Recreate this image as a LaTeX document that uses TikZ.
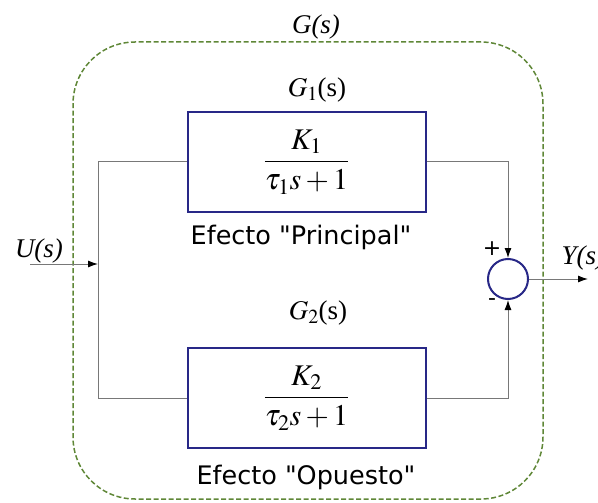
\documentclass[tikz,border=0pt]{standalone}
\usepackage{amsmath}
\usepackage{mathptmx}
\usepackage{fontspec}
\setmainfont{Liberation Serif}
\setsansfont{DejaVu Sans}
\usepackage{tikz}
\usetikzlibrary{arrows.meta}

\definecolor{boxblue}{RGB}{40,40,135}
\definecolor{groupgreen}{RGB}{95,135,55}
\definecolor{wiregray}{RGB}{120,120,120}

\begin{document}
\begin{tikzpicture}[
		x=1pt, y=-1pt,
		block/.style={
			rectangle,
			draw=boxblue,
			line width=2pt,
			align=center,
			minimum width=238pt,
			minimum height=100pt,
			font=\fontsize{30}{34}\selectfont
		},
		group/.style={
			rectangle,
			draw=groupgreen,
			line width=1.5pt,
			dash pattern=on 5pt off 2.5pt,
			rounded corners=62pt,
			minimum width=470pt,
			minimum height=457pt
		},
		summer/.style={
			circle,
			draw=boxblue,
			line width=2pt,
			minimum size=40pt,
			inner sep=0pt
		},
		label/.style={
			font=\fontsize{27}{31}\selectfont
		},
		caption/.style={
			font=\sffamily\fontsize{25.5}{29}\selectfont
		},
		sign/.style={
			font=\sffamily\fontsize{22}{24}\selectfont,
			inner sep=0pt
		},
		wire/.style={
			draw=wiregray,
			line width=1pt
		},
		arrow/.style={
			draw=wiregray,
			line width=1pt,
			-{Latex[length=10pt,width=7pt,fill=black,color=black]}
		}
		]
		
		\useasboundingbox (0,0) rectangle (598,503);
		
		\node[group] (grp) at (308,270.5) {};
		\node[label] (gs) at (316,27) {\textit{G(s)}};
		
		\node[label] (g1) at (317,90) {$G_1$(s)};
		\node[block] (tf1) at (306.5,162) {$\dfrac{K_{1}}{\tau_{1}s+1}$};
		\node[caption] (eff1) at (301,237) {Efecto \textquotedbl Principal\textquotedbl};
		
		\node[label] (g2) at (318,313) {$G_2$(s)};
		\node[block] (tf2) at (306.5,398) {$\dfrac{K_{2}}{\tau_{2}s+1}$};
		\node[caption] (eff2) at (306,477) {Efecto \textquotedbl Opuesto\textquotedbl};
		
		\node[summer] (sum) at (508,279) {};
		\node[sign] (plus) at (492,249) {+};
		\node[sign] (minus) at (492,302) {-};
		
		\node[label] (us) at (39,251) {\textit{U(s)}};
		\node[label, anchor=west] (ys) at (558,258) {\textit{Y(s)}};
		
		\coordinate (in) at (30,264);
		\coordinate (split) at (98,264);
		\coordinate (lt) at (98,162);
		\coordinate (lb) at (98,398);
		\coordinate (out) at (588,279);
		
		\draw[wire] (tf1.west) -- (lt) -- (lb) -- (tf2.west);
		\draw[arrow] (in) -- (split);
		\draw[arrow] (tf1.east) -| (sum.north);
		\draw[arrow] (tf2.east) -| (sum.south);
		\draw[arrow] (sum.east) -- (out);
		
	\end{tikzpicture}
\end{document}
